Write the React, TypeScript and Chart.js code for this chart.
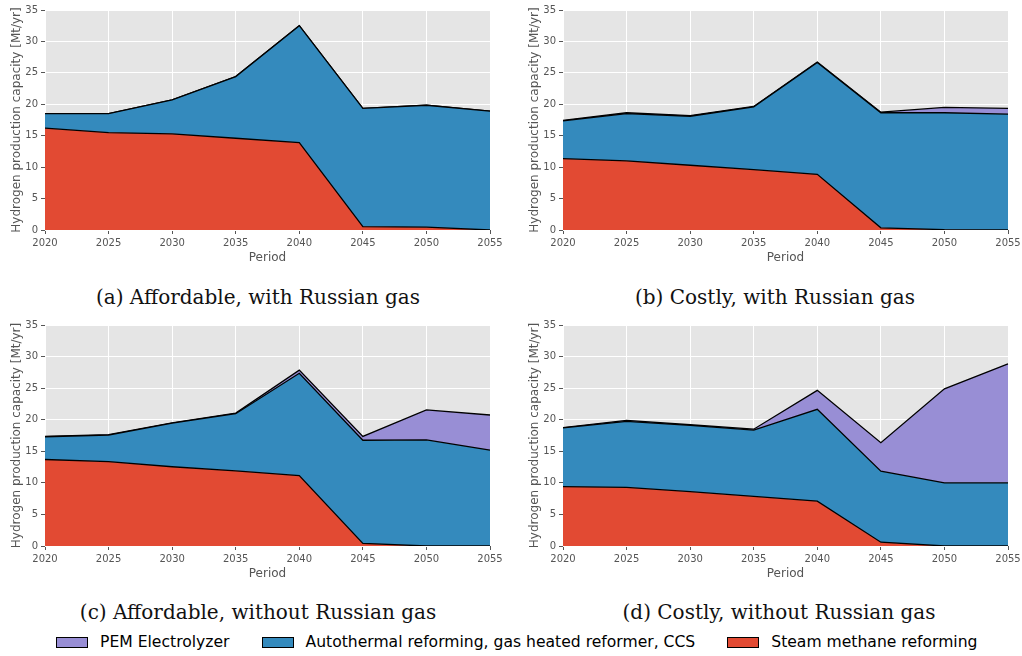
import React, { useEffect, useRef } from "react";
import { Chart, registerables } from "chart.js";

Chart.register(...registerables);

// ---------- data ----------
const years = ["2020", "2025", "2030", "2035", "2040", "2045", "2050", "2055"];
const yTicks = [0, 5, 10, 15, 20, 25, 30, 35];

const seriesNames = [
  "PEM Electrolyzer",
  "Autothermal reforming, gas heated reformer, CCS",
  "Steam methane reforming",
];

// (a) Affordable, with Russian gas
const affRusSteam = [16.2, 15.5, 15.3, 14.6, 13.9, 0.55, 0.45, 0];
const affRusAtr = [2.3, 3.0, 5.4, 9.8, 18.6, 18.8, 19.4, 18.9];
const affRusPem = [0, 0, 0, 0, 0, 0, 0, 0];

// (b) Costly, with Russian gas
const costRusSteam = [11.35, 11.0, 10.3, 9.6, 8.85, 0.35, 0.05, 0];
const costRusAtr = [6.0, 7.5, 7.8, 10.0, 17.8, 18.3, 18.6, 18.45];
const costRusPem = [0.1, 0.15, 0.1, 0.05, 0.05, 0.1, 0.85, 0.9];

// (c) Affordable, without Russian gas
const affNoSteam = [13.7, 13.35, 12.55, 11.9, 11.15, 0.4, 0, 0];
const affNoAtr = [3.6, 4.2, 6.9, 9.05, 16.2, 16.35, 16.8, 15.2];
const affNoPem = [0.05, 0.1, 0.05, 0.1, 0.5, 0.6, 4.75, 5.55];

// (d) Costly, without Russian gas
const costNoSteam = [9.4, 9.3, 8.6, 7.85, 7.1, 0.6, 0, 0];
const costNoAtr = [9.3, 10.45, 10.5, 10.5, 14.55, 11.25, 10.0, 10.0];
const costNoPem = [0.05, 0.15, 0.1, 0.15, 3.0, 4.5, 14.9, 18.85];

const captions = [
  "(a) Affordable, with Russian gas",
  "(b) Costly, with Russian gas",
  "(c) Affordable, without Russian gas",
  "(d) Costly, without Russian gas",
];

// ---------- styles ----------
const RED = "#E24A33";
const BLUE = "#348ABD";
const PURPLE = "#988ED5";
const BG = "#E5E5E5";
const TXT = "#555555";
const SANS = "DejaVu Sans";
const SERIF = "DejaVu Serif";

const bgPlugin = {
  id: "plotBg",
  beforeDraw(chart: any) {
    const { ctx, chartArea: a } = chart;
    ctx.save();
    ctx.fillStyle = BG;
    ctx.fillRect(a.left, a.top, a.right - a.left, a.bottom - a.top);
    ctx.restore();
  },
};

type PanelProps = {
  left: number;
  top: number;
  width: number;
  height: number;
  padRight: number;
  padBottom: number;
  steam: number[];
  atr: number[];
  pem: number[];
};

function Panel(p: PanelProps) {
  const ref = useRef<HTMLCanvasElement>(null);
  useEffect(() => {
    if (!ref.current) return;
    const common = {
      borderColor: "#000",
      borderWidth: 1.3,
      pointRadius: 0,
      tension: 0,
    };
    const chart = new Chart(ref.current, {
      type: "line",
      data: {
        labels: years,
        datasets: [
          { ...common, label: seriesNames[2], data: p.steam, backgroundColor: RED, fill: "origin" },
          { ...common, label: seriesNames[1], data: p.atr, backgroundColor: BLUE, fill: "-1" },
          { ...common, label: seriesNames[0], data: p.pem, backgroundColor: PURPLE, fill: "-1" },
        ],
      },
      options: {
        animation: false,
        responsive: false,
        devicePixelRatio: 1,
        layout: { padding: { left: 0, top: 10, right: p.padRight, bottom: p.padBottom } },
        plugins: { legend: { display: false }, tooltip: { enabled: false } },
        scales: {
          x: {
            type: "category",
            offset: false,
            grid: { color: "#FFFFFF", lineWidth: 1, tickColor: TXT, tickLength: 4, drawTicks: true },
            border: { display: false },
            ticks: {
              color: TXT,
              font: { family: SANS, size: 10 },
              padding: 3,
              maxRotation: 0,
              autoSkip: false,
            },
            title: {
              display: true,
              text: "Period",
              color: TXT,
              font: { family: SANS, size: 12 },
              padding: { top: 0, bottom: 0 },
            },
            afterFit: (s: any) => {
              s.height = 35;
            },
          },
          y: {
            stacked: true,
            min: 0,
            max: 35,
            afterBuildTicks: (s: any) => {
              s.ticks = yTicks.map((v) => ({ value: v }));
            },
            grid: { color: "#FFFFFF", lineWidth: 1, tickColor: TXT, tickLength: 4, drawTicks: true },
            border: { display: false },
            ticks: { color: TXT, font: { family: SANS, size: 10 }, padding: 3 },
            title: {
              display: true,
              text: "Hydrogen production capacity [Mt/yr]",
              color: TXT,
              font: { family: SANS, size: 12 },
              padding: { top: 10, bottom: 0 },
            },
            afterFit: (s: any) => {
              s.width = 45;
            },
          },
        },
      },
      plugins: [bgPlugin],
    } as any);
    return () => chart.destroy();
  }, []);
  return (
    <canvas
      ref={ref}
      width={p.width}
      height={p.height}
      style={{ position: "absolute", left: p.left, top: p.top, width: p.width, height: p.height }}
    />
  );
}

function Caption({ text, cx, cy }: { text: string; cx: number; cy: number }) {
  return (
    <div
      style={{
        position: "absolute",
        left: cx - 250,
        top: cy - 13,
        width: 500,
        height: 26,
        lineHeight: "26px",
        textAlign: "center",
        fontFamily: SERIF,
        fontSize: 20,
        color: "#111",
        whiteSpace: "nowrap",
      }}
    >
      {text}
    </div>
  );
}

function LegendItem({ color, label, gapAfter }: { color: string; label: string; gapAfter: number }) {
  return (
    <div style={{ display: "flex", alignItems: "center", marginRight: gapAfter }}>
      <div
        style={{
          width: 32,
          height: 11,
          boxSizing: "border-box",
          border: "1px solid #000",
          background: color,
          marginRight: 12,
        }}
      />
      <span style={{ fontFamily: SANS, fontSize: 15.6, color: "#000", whiteSpace: "nowrap" }}>{label}</span>
    </div>
  );
}

export default function App() {
  return (
    <div
      style={{
        position: "fixed",
        left: 0,
        top: 0,
        width: 1022,
        height: 656,
        background: "#FFFFFF",
        overflow: "hidden",
      }}
    >
      <Panel left={0} top={0} width={511} height={270} padRight={21} padBottom={5} steam={affRusSteam} atr={affRusAtr} pem={affRusPem} />
      <Panel left={518} top={0} width={510} height={270} padRight={20} padBottom={5} steam={costRusSteam} atr={costRusAtr} pem={costRusPem} />
      <Panel left={0} top={315} width={511} height={270} padRight={21} padBottom={4} steam={affNoSteam} atr={affNoAtr} pem={affNoPem} />
      <Panel left={518} top={315} width={510} height={270} padRight={20} padBottom={4} steam={costNoSteam} atr={costNoAtr} pem={costNoPem} />

      <Caption text={captions[0]} cx={258} cy={297} />
      <Caption text={captions[1]} cx={775} cy={297} />
      <Caption text={captions[2]} cx={258} cy={612} />
      <Caption text={captions[3]} cx={779} cy={612} />

      <div
        style={{
          position: "absolute",
          left: 56,
          top: 631,
          height: 22,
          display: "flex",
          alignItems: "center",
        }}
      >
        <LegendItem color={PURPLE} label={seriesNames[0]} gapAfter={32} />
        <LegendItem color={BLUE} label={seriesNames[1]} gapAfter={32} />
        <LegendItem color={RED} label={seriesNames[2]} gapAfter={0} />
      </div>
    </div>
  );
}
